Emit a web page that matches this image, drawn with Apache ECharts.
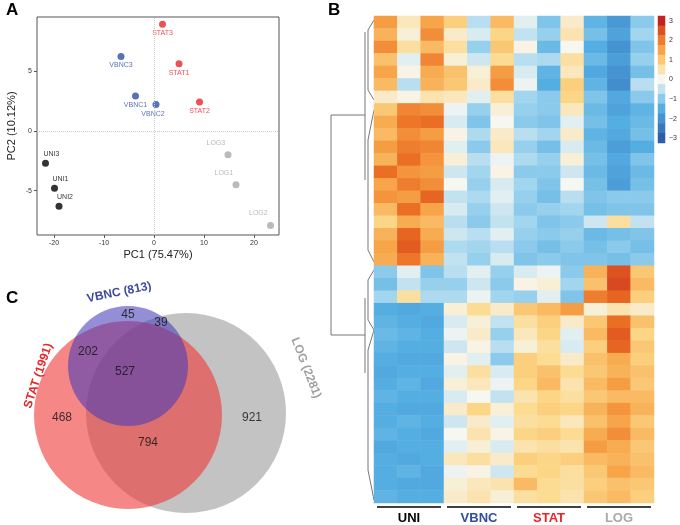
<!DOCTYPE html>
<html><head><meta charset="utf-8">
<script src="https://cdn.jsdelivr.net/npm/echarts@6/dist/echarts.min.js"></script>
<style>html,body{margin:0;padding:0;background:#fff}#c{width:680px;height:525px}</style>
</head><body><div id="c"></div>
<script>
// ---- Panel A: PCA ----
const pcaNames = ['STAT3','STAT1','STAT2','VBNC3','VBNC1','VBNC2','UNI3','UNI1','UNI2','LOG3','LOG1','LOG2'];
const pcaPC1 = [1.7,5.0,9.1,-6.6,-3.7,0.4,-21.7,-19.9,-19.0,14.8,16.4,23.3];
const pcaPC2 = [8.9,5.6,2.4,6.2,2.9,2.2,-2.7,-4.8,-6.3,-2.0,-4.5,-7.9];
const pcaGroup = ['STAT','STAT','STAT','VBNC','VBNC','VBNC','UNI','UNI','UNI','LOG','LOG','LOG'];
const xTicks = [-20,-10,0,10,20];
const yTicks = [-5,0,5];
// ---- Panel B: heatmap ----
const hmColumns = ['UNI1','UNI2','UNI3','VBNC1','VBNC2','VBNC3','STAT1','STAT2','STAT3','LOG1','LOG2','LOG3'];
const hmGroups = ['UNI','VBNC','STAT','LOG'];
const hmTop = [
[1.6,0.4,1.5,0.9,-0.6,1.2,-0.2,-1.1,0.3,-1.4,-1.9,-1.0],
[1.3,0.2,1.8,0.3,-0.3,0.8,-0.5,-0.9,0.5,-1.2,-1.7,-0.8],
[1.8,0.6,1.2,0.6,-0.9,1.0,0.1,-1.3,0.0,-1.5,-2.0,-1.1],
[1.1,-0.2,1.9,0.2,-0.4,0.7,-0.6,-0.7,0.6,-1.3,-1.8,-0.9],
[1.5,0.1,1.4,1.1,0.2,1.6,-0.3,-1.4,0.4,-1.6,-2.0,-1.2],
[1.2,-0.6,1.3,1.0,0.3,1.8,-0.1,-1.5,0.9,-1.4,-2.1,-0.6],
[0.3,0.1,0.5,0.4,-0.2,0.6,-0.8,-1.0,0.8,-1.1,-1.6,-1.0],
[1.0,1.9,1.8,-0.1,-0.9,0.2,-0.9,-1.0,0.4,-1.3,-1.7,-1.4],
[1.4,2.1,2.2,-0.3,-1.1,0.0,-1.0,-1.1,-0.2,-1.2,-1.5,-1.3],
[1.2,1.8,1.6,0.1,-0.7,0.3,-0.6,-0.8,0.3,-1.4,-1.6,-1.2],
[1.6,2.0,1.9,-0.2,-1.0,0.4,-0.9,-1.2,-0.3,-1.3,-1.8,-1.5],
[1.3,2.2,1.7,0.2,-0.6,-0.1,-0.7,-0.9,0.2,-1.2,-1.6,-1.1],
[2.2,1.7,1.6,-0.4,-0.8,0.1,-1.0,-1.0,-0.4,-1.3,-1.7,-1.3],
[1.5,2.0,1.8,0.0,-0.9,-0.3,-0.8,-1.1,0.0,-1.2,-1.8,-1.2],
[1.7,1.6,2.3,-0.5,-0.7,-0.2,-0.9,-1.2,-0.6,-1.1,-1.0,-1.0],
[1.2,2.2,1.5,-0.3,-0.9,-0.4,-1.0,-0.9,-0.8,-1.2,-1.1,-1.1],
[0.8,1.4,1.2,-0.6,-1.0,-0.5,-0.8,-1.1,-1.0,-0.4,0.6,-0.5],
[1.3,2.3,1.4,-0.4,-0.6,-0.2,-0.9,-1.0,-0.9,-1.3,-1.2,-1.1],
[1.5,2.4,1.6,-0.7,-0.8,-0.6,-1.0,-1.2,-1.0,-1.2,-1.0,-1.2],
[1.4,2.1,1.3,-0.5,-0.9,-0.3,-1.1,-1.0,-1.1,-1.1,-1.2,-1.0]
];
const hmBottom = [
[-1.0,-0.2,-1.1,-0.6,-0.2,-0.9,-0.3,-0.1,-1.0,1.3,2.5,1.0],
[-1.2,-0.5,-0.9,-0.9,-0.4,-1.0,0.1,0.2,-0.8,1.1,2.6,1.2],
[-0.8,0.6,-0.7,-0.7,-0.1,-0.8,-0.9,-0.2,-1.1,2.0,2.3,0.9],
[-1.5,-1.6,-1.5,0.2,0.7,0.3,1.0,1.2,1.6,0.2,0.5,0.3],
[-1.4,-1.5,-1.6,-0.3,0.2,-0.5,0.6,0.9,0.3,1.0,2.2,1.1],
[-1.3,-1.4,-1.5,-0.1,0.3,-0.9,0.4,0.8,-0.2,1.2,2.4,0.8],
[-1.4,-1.5,-1.5,-0.4,0.1,-0.6,0.2,0.6,-0.3,0.9,2.3,1.0],
[-1.5,-1.6,-1.6,0.1,-0.2,-1.0,0.9,0.7,0.3,1.1,1.4,0.9],
[-1.6,-1.5,-1.5,-0.2,0.6,-0.3,0.9,1.1,0.7,1.0,1.3,1.1],
[-1.5,-1.4,-1.6,0.2,0.4,-0.1,0.8,1.2,0.5,1.2,1.6,1.0],
[-1.4,-1.5,-1.5,-0.3,0.0,-0.5,0.5,0.8,0.6,1.0,1.2,1.2],
[-1.5,-1.6,-1.6,0.3,0.8,0.2,0.7,0.9,0.8,1.3,1.7,1.3],
[-1.5,-1.4,-1.5,-0.4,0.3,-0.2,0.6,0.7,0.4,1.1,1.5,1.0],
[-1.4,-1.5,-1.6,0.0,0.5,0.1,0.8,0.9,0.7,1.4,1.8,1.2],
[-1.6,-1.5,-1.5,-0.2,0.2,-0.3,0.5,0.6,0.5,1.6,1.4,1.0],
[-1.5,-1.6,-1.5,0.4,0.6,0.3,0.9,0.8,0.9,1.2,1.3,1.1],
[-1.5,-1.4,-1.6,-0.1,0.1,-0.4,0.7,0.8,0.6,1.0,1.5,1.2],
[-1.5,-1.6,-1.6,0.2,0.4,0.5,1.2,0.7,0.6,0.9,1.1,1.0],
[-1.4,-1.5,-1.5,0.3,0.5,0.2,0.6,0.7,0.5,1.0,1.2,0.9]
];
const scaleSteps = [3,2.5,2,1.5,1,0.5,0,-0.5,-1,-1.5,-2,-2.5,-3];
// ---- Panel C: Venn ----
const vennSets = ['LOG','STAT','VBNC'];
const vennTotals = [2281,1991,813];
const vennCounts = [45,39,202,527,468,794,921];

const groupColor = {STAT:'#e8262a',VBNC:'#2e4fa3',UNI:'#000000',LOG:'#a9a9a9'};
const stops = ['#2d5fa8','#3d86c8','#55aee2','#a8d8ef','#f7f7f2','#fcd98c','#f7a548','#ea6a22','#c4221f'];

const rows = hmTop.concat(hmBottom);
const hmData = [];
rows.forEach((r,i)=>r.forEach((v,j)=>hmData.push([j,i,v])));
const scaleData = scaleSteps.map((v,i)=>[0,i,v]);

const chart = echarts.init(document.getElementById('c'));
const font = 'Liberation Sans, Arial, sans-serif';
chart.setOption({
  animation:false,
  textStyle:{fontFamily:font},
  visualMap:{show:false,min:-3,max:3,seriesIndex:[1,2],dimension:2,inRange:{color:stops}},
  grid:[
    {left:37,top:17,width:242,height:218,show:true,borderColor:'#555',borderWidth:1},
    {left:374,top:16,width:280,height:487},
    {left:658,top:16,width:8,height:127},
    {left:0,top:290,width:320,height:235}
  ],
  xAxis:[
    {gridIndex:0,type:'value',min:-23.4,max:25,splitLine:{show:false},axisLine:{show:false,onZero:false},
     axisTick:{show:true,customValues:xTicks,length:3,inside:false,lineStyle:{color:'#555'}},
     axisLabel:{customValues:xTicks,fontSize:7,color:'#333',margin:5},
     name:'PC1 (75.47%)',nameLocation:'middle',nameGap:14,nameTextStyle:{fontSize:11,color:'#222'}},
    {gridIndex:1,type:'category',data:hmColumns,show:false},
    {gridIndex:2,type:'category',data:['s'],show:false},
    {gridIndex:3,type:'value',min:0,max:320,show:false}
  ],
  yAxis:[
    {gridIndex:0,type:'value',min:-8.7,max:9.5,splitLine:{show:false},axisLine:{show:false,onZero:false},
     axisTick:{show:true,customValues:yTicks,length:3,inside:false,lineStyle:{color:'#555'}},
     axisLabel:{customValues:yTicks,fontSize:7,color:'#333',margin:5},
     name:'PC2 (10.12%)',nameLocation:'middle',nameGap:20,nameTextStyle:{fontSize:11,color:'#222'}},
    {gridIndex:1,type:'category',inverse:true,data:rows.map((r,i)=>i),show:false},
    {gridIndex:2,type:'category',inverse:true,data:scaleSteps.map(String),position:'right',
     axisLine:{show:false},axisTick:{show:false},
     axisLabel:{fontSize:7,color:'#333',margin:4,formatter:v=>Number.isInteger(+v)?v.replace('-','−'):'',interval:0}},
    {gridIndex:3,type:'value',min:0,max:235,inverse:true,show:false}
  ],
  series:[
    {type:'scatter',xAxisIndex:0,yAxisIndex:0,symbolSize:7,z:3,
     data:pcaNames.map((n,i)=>({value:[pcaPC1[i],pcaPC2[i]],name:n,
        itemStyle:{color:groupColor[pcaGroup[i]]},
        label:{show:true,formatter:n,fontSize:7,color:groupColor[pcaGroup[i]],
          position:pcaGroup[i]==='UNI'?'top':(pcaGroup[i]==='LOG'?[-18,-12]:'bottom'),distance:2,
          offset:pcaGroup[i]==='UNI'?[6,0]:(n==='VBNC2'?[-3,1]:[0,0])}})),
     markLine:{silent:true,symbol:'none',label:{show:false},lineStyle:{color:'#ccc',type:'dotted',width:1},
       data:[{xAxis:0},{yAxis:0}]}},
    {type:'heatmap',xAxisIndex:1,yAxisIndex:1,data:hmData},
    {type:'heatmap',xAxisIndex:2,yAxisIndex:2,data:scaleData},
    {type:'custom',xAxisIndex:3,yAxisIndex:3,
     data:[[186,123,100,0],[128,125,94,1],[128,76,60,2]],
     renderItem:(p,api)=>{
       const c=api.coord([api.value(0),api.value(1)]);
       const r=api.size([api.value(2),0])[0];
       const fills=['#c3c3c3','rgba(238,55,55,0.6)','rgba(70,60,185,0.58)'];
       return {type:'circle',shape:{cx:c[0],cy:c[1],r:r},style:{fill:fills[api.value(3)]}};
     }},
    {type:'scatter',xAxisIndex:3,yAxisIndex:3,symbolSize:0,
     data:[[128,25],[161,33],[88,62],[125,82],[62,128],[148,153],[252,128]].map((p,i)=>({value:p,
       label:{show:true,position:'inside',formatter:String(vennCounts[i]),fontSize:12,color:'#111'}}))}
  ],
  graphic:[
    {type:'text',left:6,top:2,style:{text:'A',font:'bold 17px '+font,fill:'#000'}},
    {type:'text',left:328,top:2,style:{text:'B',font:'bold 17px '+font,fill:'#000'}},
    {type:'text',left:6,top:290,style:{text:'C',font:'bold 17px '+font,fill:'#000'}},
    {type:'text',x:86,y:293,rotation:0.2,style:{text:vennSets[2]+' ('+vennTotals[2]+')',font:'bold 12px '+font,fill:'#3d4aa0'}},
    {type:'text',x:22,y:406,rotation:1.25,style:{text:vennSets[1]+' ('+vennTotals[1]+')',font:'bold 12px '+font,fill:'#e8262a'}},
    {type:'text',x:300,y:336,rotation:-1.2,style:{text:vennSets[0]+' ('+vennTotals[0]+')',font:'bold 12px '+font,fill:'#a0a0a0'}},
    {type:'polyline',shape:{points:[[365,115],[331,115],[331,335],[365,335]]},style:{stroke:'#777',lineWidth:1,fill:null}},
    {type:'line',shape:{x1:365,y1:32,x2:365,y2:180},style:{stroke:'#777',lineWidth:1}},
    {type:'line',shape:{x1:365,y1:298,x2:365,y2:373},style:{stroke:'#777',lineWidth:1}},
    {type:'polyline',shape:{points:[[374,20],[368,30],[368,90],[374,100]]},style:{stroke:'#777',lineWidth:1,fill:null}},
    {type:'polyline',shape:{points:[[374,110],[368,140],[368,250],[374,262]]},style:{stroke:'#777',lineWidth:1,fill:null}},
    {type:'polyline',shape:{points:[[374,270],[368,280],[368,320],[374,330]]},style:{stroke:'#777',lineWidth:1,fill:null}},
    {type:'polyline',shape:{points:[[374,330],[368,350],[368,470],[374,500]]},style:{stroke:'#777',lineWidth:1,fill:null}}
  ].concat(hmGroups.flatMap((g,i)=>{
    const x0=374+i*70;
    return [
      {type:'line',shape:{x1:x0+3,y1:507,x2:x0+67,y2:507},style:{stroke:'#000',lineWidth:1.5}},
      {type:'text',x:x0+35,y:512,style:{text:g,font:'bold 13px '+font,fill:groupColor[g],textAlign:'center'}}
    ];
  }))
});
</script></body></html>
